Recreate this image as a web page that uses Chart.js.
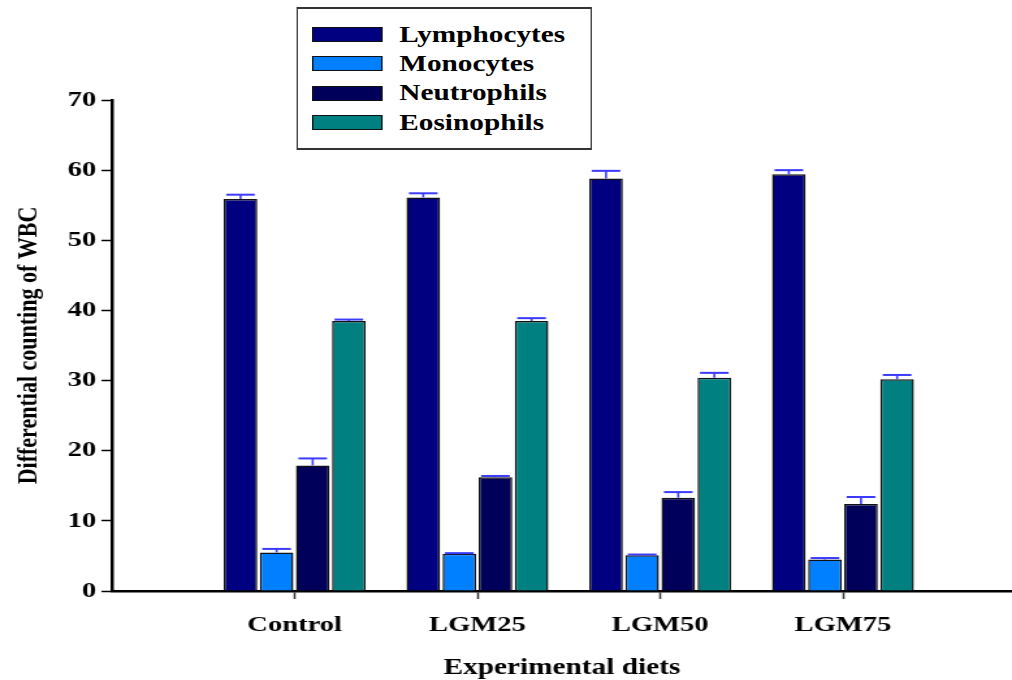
<!DOCTYPE html>
<html>
<head>
<meta charset="utf-8">
<title>Differential counting of WBC</title>
<script src="https://cdn.jsdelivr.net/npm/chart.js@4.4.1/dist/chart.umd.min.js"></script>
<style>
    html, body { margin: 0; padding: 0; background: #fff; overflow: hidden; }
    /* the original figure is stretched sideways, so the whole drawing is too */
    #wrap {
        position: absolute; left: 0; top: 0;
        width: 778px; height: 680px;
        transform: scaleX(1.3008); transform-origin: 0 0;
    }
    #legend {
        position: absolute; left: 227.6px; top: 7px;
        width: 227.5px; height: 143px;
        box-sizing: border-box;
        border-style: solid; border-color: #333;
        border-width: 2px 1.6px;
        background: #fff;
        font: bold 22.5px "Liberation Serif", "Times New Roman", serif;
        color: #000;
    }
    .swatch {
        position: absolute; left: 11.4px;
        width: 53.8px; height: 15px;
        box-sizing: border-box;
        border: 1.5px solid #111;
    }
    .item {
        position: absolute; left: 78.4px;
        height: 26px; line-height: 26px;
        white-space: nowrap;
    }
</style>
</head>
<body>
<div id="wrap">
    <canvas id="chart" width="778" height="680"></canvas>
    <div id="legend"></div>
</div>
<script>
    const categories = ["Control", "LGM25", "LGM50", "LGM75"];
    const seriesNames = ["Lymphocytes", "Monocytes", "Neutrophils", "Eosinophils"];
    const seriesColors = ["#000080", "#0080ff", "#00005a", "#008080"];

    const lymphocytes = [55.9, 56.1, 58.8, 59.4];
    const monocytes = [5.5, 5.3, 5.1, 4.5];
    const neutrophils = [17.9, 16.2, 13.3, 12.4];
    const eosinophils = [38.5, 38.5, 30.4, 30.2];

    // upper error bars (only the top half is drawn in the figure)
    const lymphocytesErr = [0.6, 0.6, 1.1, 0.6];
    const monocytesErr = [0.5, 0.1, 0.1, 0.2];
    const neutrophilsErr = [1.0, 0.2, 0.8, 1.0];
    const eosinophilsErr = [0.2, 0.4, 0.7, 0.6];

    const yTicks = [0, 10, 20, 30, 40, 50, 60, 70];

    const seriesValues = [lymphocytes, monocytes, neutrophils, eosinophils];
    const seriesErrors = [lymphocytesErr, monocytesErr, neutrophilsErr, eosinophilsErr];

    const serif = "'Liberation Serif', 'Times New Roman', serif";

    // legend box
    const legend = document.getElementById("legend");
    seriesNames.forEach((name, i) => {
        const sw = document.createElement("div");
        sw.className = "swatch";
        sw.style.top = (18 + i * 29.4) + "px";
        sw.style.background = seriesColors[i];
        legend.appendChild(sw);

        const txt = document.createElement("div");
        txt.className = "item";
        txt.style.top = (12.5 + i * 29.4) + "px";
        txt.textContent = name;
        legend.appendChild(txt);
    });

    const errorBars = {
        id: "errorBars",
        afterDatasetsDraw(chart) {
            const ctx = chart.ctx;
            const y = chart.scales.y;
            ctx.save();
            ctx.strokeStyle = "#3b3bff";
            chart.data.datasets.forEach((ds, i) => {
                const meta = chart.getDatasetMeta(i);
                meta.data.forEach((bar, j) => {
                    const top = y.getPixelForValue(ds.data[j] + seriesErrors[i][j]);
                    ctx.lineWidth = 1.6;
                    ctx.beginPath();
                    ctx.moveTo(bar.x, bar.y);
                    ctx.lineTo(bar.x, top);
                    ctx.stroke();
                    ctx.lineWidth = 2;
                    ctx.beginPath();
                    ctx.moveTo(bar.x - 11, top);
                    ctx.lineTo(bar.x + 11, top);
                    ctx.stroke();
                });
            });
            ctx.restore();
        }
    };

    new Chart(document.getElementById("chart"), {
        type: "bar",
        data: {
            labels: categories.map((c, i) => i + 1),
            datasets: seriesNames.map((name, i) => ({
                label: name,
                data: seriesValues[i],
                backgroundColor: seriesColors[i],
                borderColor: "#111",
                borderWidth: 1.5,
                categoryPercentage: 0.79,
                barPercentage: 0.93
            }))
        },
        options: {
            responsive: false,
            animation: false,
            layout: { padding: { top: 100, right: -5, bottom: 0, left: 0 } },
            plugins: {
                legend: { display: false },
                tooltip: { enabled: false }
            },
            scales: {
                x: {
                    type: "linear",
                    min: 0,
                    max: 4.925,
                    offset: false,
                    afterBuildTicks: (scale) => {
                        scale.ticks = categories.map((c, i) => ({ value: i + 1 }));
                    },
                    afterFit: (scale) => { scale.height = 89; },
                    grid: {
                        offset: false,
                        drawOnChartArea: false,
                        tickLength: 8,
                        tickColor: "#333",
                        tickWidth: 1.5
                    },
                    border: { display: true, color: "#000", width: 2.5 },
                    ticks: {
                        autoSkip: false,
                        maxRotation: 0,
                        padding: 13,
                        color: "#000",
                        font: { family: serif, size: 22, weight: "bold" },
                        callback: (v) => categories[v - 1]
                    },
                    title: {
                        display: true,
                        text: "Experimental diets",
                        color: "#000",
                        font: { family: serif, size: 22.5, weight: "bold" },
                        padding: { top: 0, bottom: -2 }
                    }
                },
                y: {
                    min: 0,
                    max: 70,
                    afterBuildTicks: (scale) => {
                        scale.ticks = yTicks.map(v => ({ value: v }));
                    },
                    afterFit: (scale) => { scale.width = 86; },
                    grid: {
                        drawOnChartArea: false,
                        tickLength: 8,
                        tickColor: "#000",
                        tickWidth: 1.5
                    },
                    border: { display: true, color: "#000", width: 2.5 },
                    ticks: {
                        padding: 4,
                        color: "#000",
                        font: { family: serif, size: 22, weight: "bold" }
                    },
                    title: {
                        display: true,
                        text: "Differential counting of WBC",
                        color: "#000",
                        font: { family: serif, size: 22, weight: "bold" },
                        padding: { top: 9, bottom: 0 }
                    }
                }
            }
        },
        plugins: [errorBars]
    });
</script>
</body>
</html>
